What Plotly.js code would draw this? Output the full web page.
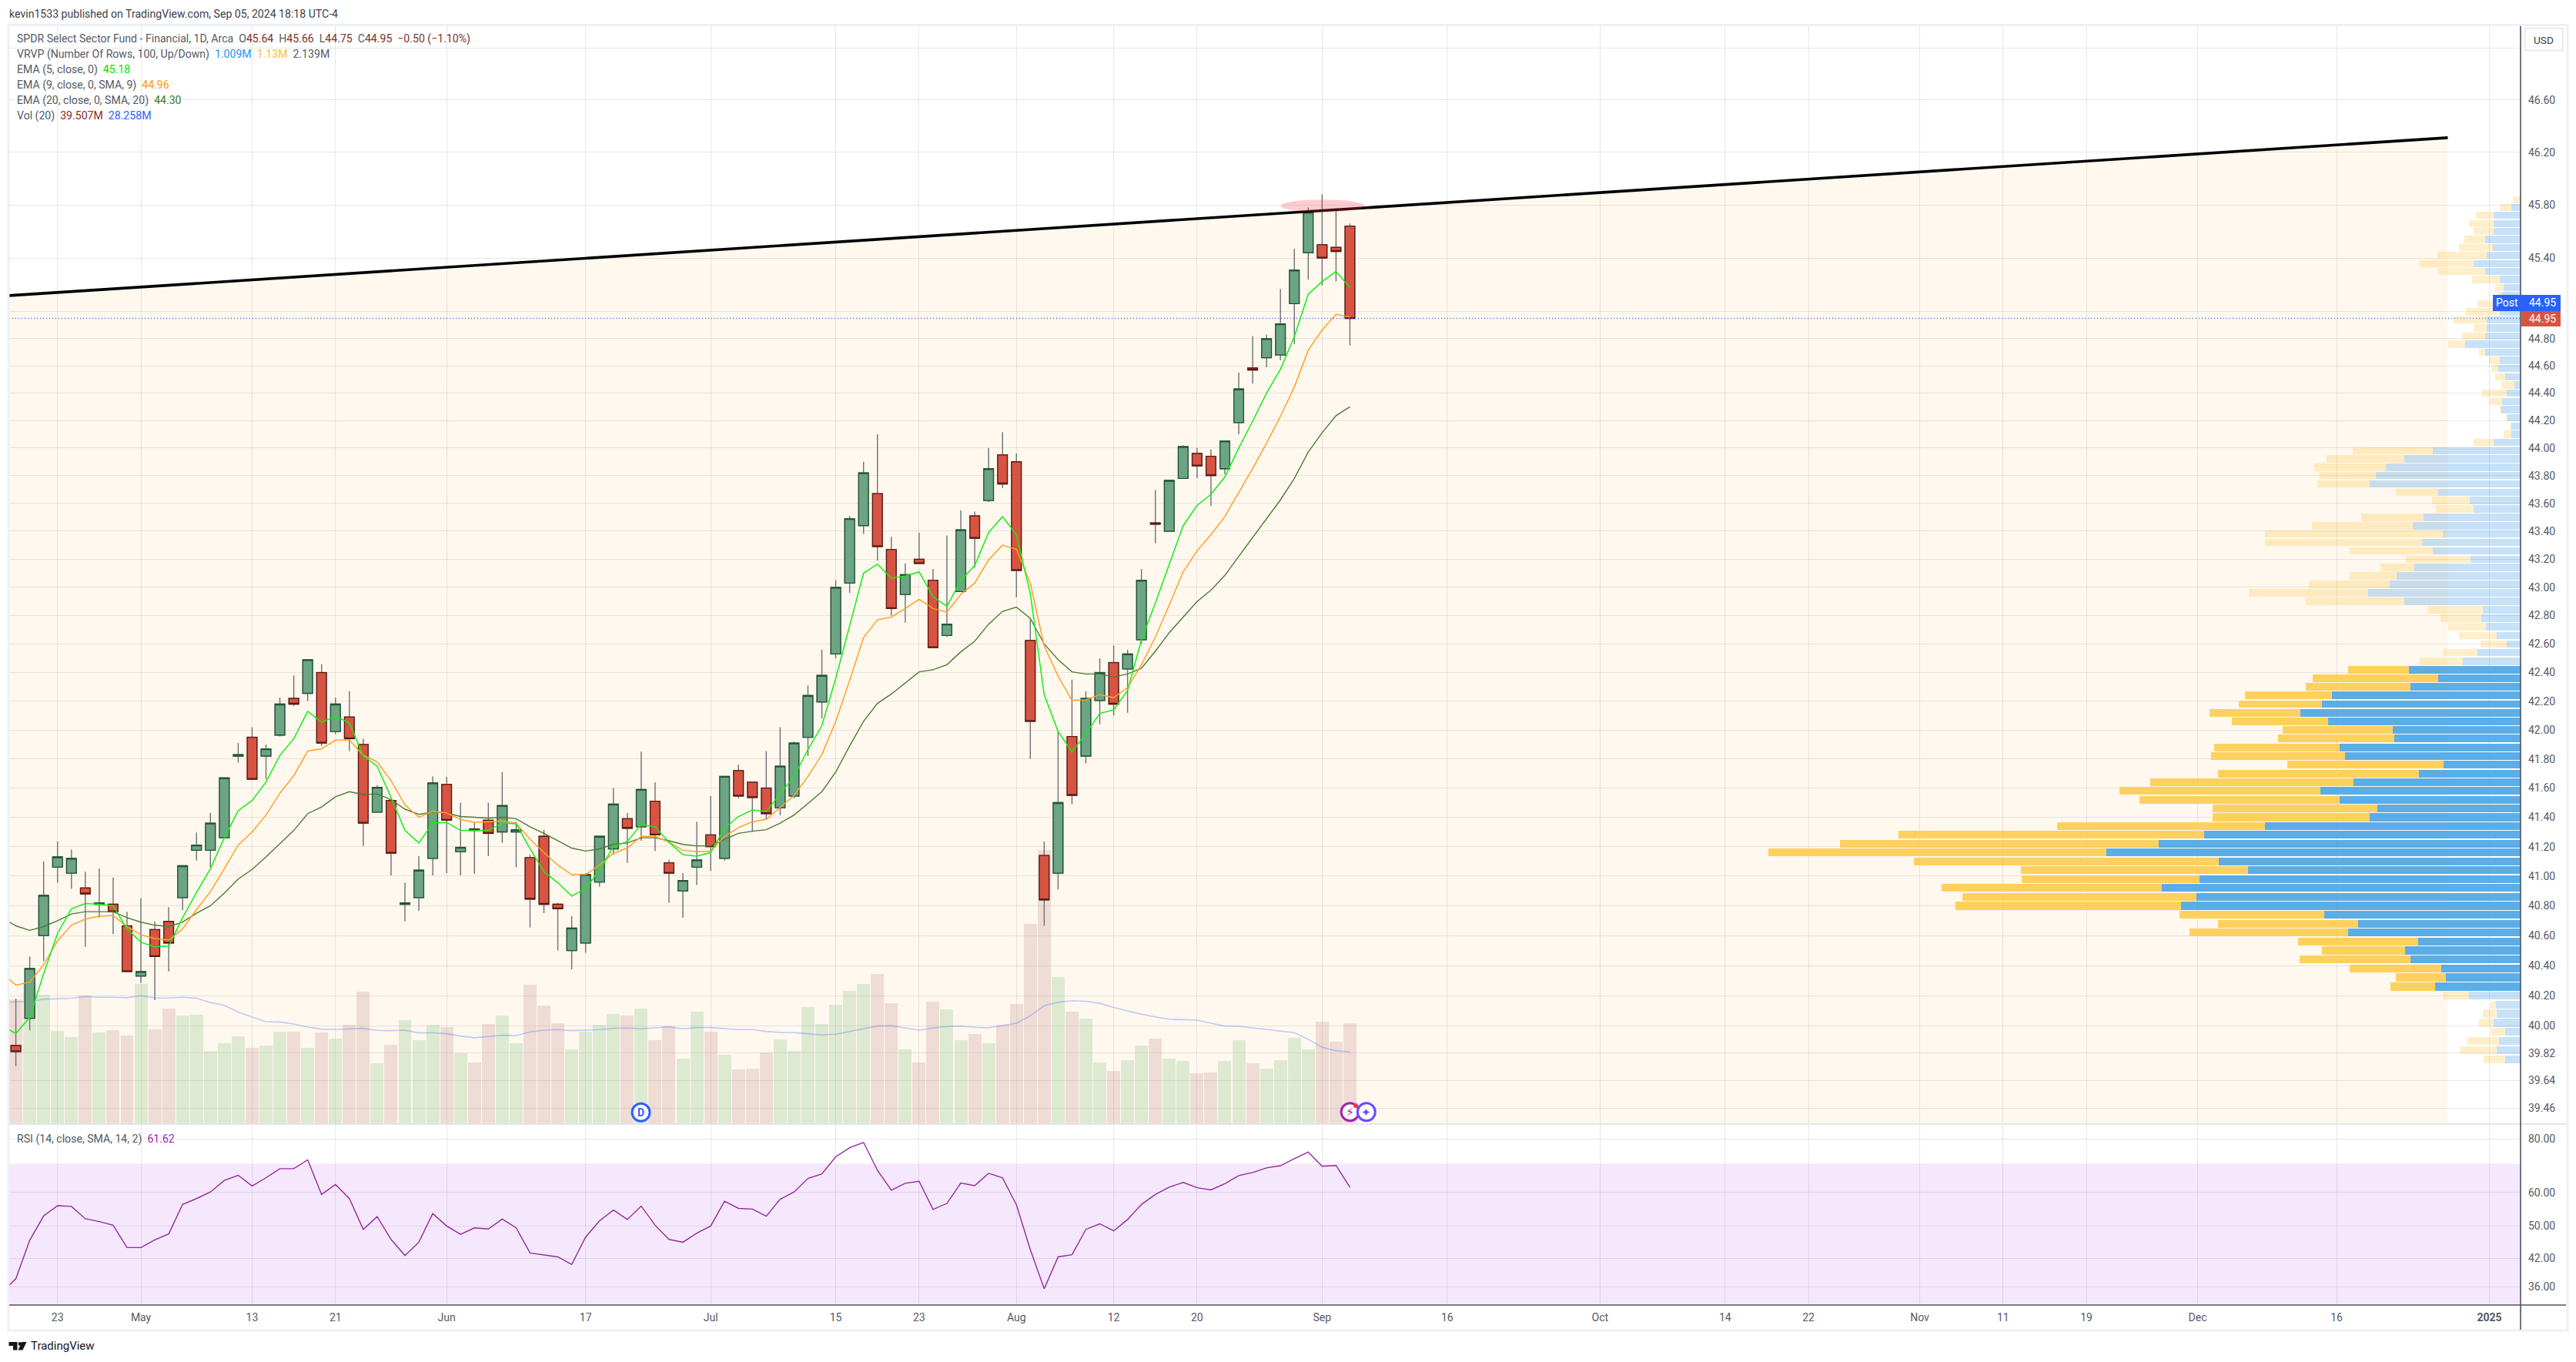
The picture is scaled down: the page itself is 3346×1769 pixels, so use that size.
<!DOCTYPE html>
<html><head><meta charset="utf-8">
<script src="https://cdn.plot.ly/plotly-3.0.1.min.js"></script>
<style>html,body{margin:0;padding:0;background:#fff}#c{width:3346px;height:1769px}</style>
</head><body><div id="c"></div>
<script>
const opens=[39.87,40.05,40.60,41.06,41.02,40.92,40.81,40.81,40.665,40.33,40.64,40.695,40.855,41.175,41.175,41.26,41.82,41.95,41.82,41.965,42.22,42.255,42.40,41.99,42.09,41.90,41.435,41.515,40.81,40.855,41.12,41.625,41.165,41.32,41.38,41.30,41.30,41.125,41.27,40.81,40.50,40.55,40.96,41.185,41.39,41.335,41.51,41.09,40.90,41.06,41.28,41.12,41.72,41.64,41.60,41.465,41.545,41.95,42.195,42.53,43.03,43.44,43.67,43.27,42.95,43.20,43.05,42.66,42.97,43.51,43.62,43.95,43.90,42.625,41.14,41.02,41.955,41.82,42.205,42.47,42.425,42.63,43.46,43.40,43.78,43.96,43.94,43.85,44.185,44.585,44.66,44.68,45.06,45.44,45.50,45.48,45.64];
const highs=[40.18,40.46,41.10,41.235,41.18,41.03,41.05,40.99,40.76,40.85,40.695,40.79,41.07,41.295,41.43,41.67,41.91,42.02,41.90,42.225,42.38,42.49,42.46,42.225,42.27,41.94,41.62,41.515,40.955,41.135,41.68,41.675,41.50,41.36,41.50,41.71,41.37,41.145,41.315,40.82,40.73,41.02,41.27,41.60,41.43,41.85,41.64,41.11,41.02,41.37,41.545,41.68,41.76,41.64,41.855,42.02,41.92,42.31,42.56,43.05,43.51,43.90,44.10,43.36,43.17,43.39,43.13,43.37,43.55,43.54,44.00,44.115,43.96,42.77,41.235,41.99,42.35,42.27,42.50,42.59,42.56,43.13,43.695,43.765,44.02,44.00,43.99,44.05,44.55,44.82,44.83,45.17,45.47,45.78,45.88,45.775,45.66];
const lows=[39.735,39.97,40.43,40.955,40.915,40.525,40.72,40.61,40.36,40.285,40.17,40.36,40.77,41.105,41.06,41.26,41.775,41.66,41.66,41.955,42.165,42.20,41.89,41.97,41.855,41.205,41.435,41.005,40.695,40.765,41.005,41.02,41.005,41.015,41.135,41.225,41.06,40.655,40.75,40.50,40.375,40.485,40.93,41.145,41.09,41.24,41.17,40.82,40.72,40.94,41.035,41.105,41.53,41.30,41.385,41.415,41.53,41.82,42.08,42.50,42.96,43.38,43.19,42.80,42.75,43.17,42.575,42.65,42.97,43.14,43.61,43.71,42.93,41.80,40.665,40.91,41.49,41.77,42.04,42.10,42.12,42.60,43.315,43.40,43.78,43.78,43.58,43.81,44.10,44.47,44.59,44.64,44.76,45.24,45.195,45.225,44.75];
const closes=[39.83,40.38,40.87,41.13,41.12,40.88,40.82,40.76,40.36,40.36,40.46,40.55,41.07,41.21,41.36,41.67,41.83,41.66,41.87,42.18,42.18,42.49,41.91,42.18,41.94,41.36,41.605,41.155,40.82,41.04,41.635,41.38,41.195,41.31,41.29,41.48,41.315,40.845,40.81,40.78,40.65,41.01,41.27,41.49,41.325,41.59,41.28,41.02,40.97,41.11,41.20,41.68,41.545,41.535,41.425,41.75,41.91,42.24,42.38,43.00,43.49,43.82,43.29,42.85,43.09,43.17,42.575,42.74,43.41,43.35,43.85,43.74,43.12,42.06,40.84,41.50,41.55,42.22,42.40,42.18,42.53,43.05,43.45,43.765,44.01,43.87,43.80,44.05,44.43,44.57,44.80,44.91,45.31,45.745,45.40,45.45,44.95];
const volumes=[48.9,55.5,50.7,36.5,34.1,50.4,35.9,36.8,34.7,54.9,37.1,45.2,42.5,42.8,28.6,31.7,34.4,29.9,30.8,36.2,36.2,29.9,35.9,33.5,38.9,51.9,23.8,31.1,40.7,32.9,38.9,38.0,27.7,24.1,39.2,42.5,31.7,54.6,46.4,39.5,29.3,36.2,38.9,43.1,42.5,45.2,32.9,38.3,25.6,44.0,36.2,27.1,21.4,21.7,28.0,33.2,28.6,45.8,39.2,46.7,52.2,54.9,58.8,47.3,29.3,24.1,47.9,44.9,32.9,35.3,31.7,38.9,47.0,78.4,107.5,57.6,44.0,41.3,24.1,20.8,24.9,30.8,33.5,25.6,24.7,19.9,20.2,24.7,32.9,23.8,21.7,25.0,33.8,29.3,40.1,32.3,39.507];
const ema5=[40.0,39.95,40.055,40.345,40.615,40.78,40.815,40.81,40.80,40.645,40.555,40.525,40.53,40.72,40.89,41.05,41.26,41.445,41.515,41.64,41.825,41.94,42.13,42.055,42.095,42.05,41.82,41.75,41.535,41.31,41.225,41.36,41.365,41.31,41.31,41.31,41.36,41.355,41.185,41.03,40.955,40.865,40.915,41.04,41.20,41.235,41.35,41.335,41.23,41.145,41.135,41.16,41.325,41.405,41.45,41.44,41.56,41.68,41.865,42.03,42.36,42.725,43.10,43.165,43.065,43.08,43.11,42.935,42.865,43.05,43.155,43.39,43.505,43.375,42.955,42.245,41.99,41.85,41.975,42.115,42.14,42.275,42.63,42.89,43.17,43.44,43.585,43.665,43.79,44.00,44.195,44.40,44.575,44.815,45.13,45.225,45.30,45.18];
const ema9=[40.35,40.27,40.29,40.405,40.565,40.67,40.71,40.73,40.735,40.66,40.605,40.58,40.57,40.645,40.775,40.895,41.05,41.21,41.30,41.415,41.565,41.685,41.855,41.87,41.93,41.93,41.825,41.78,41.65,41.485,41.40,41.44,41.43,41.385,41.365,41.37,41.375,41.36,41.25,41.16,41.075,41.01,41.01,41.075,41.155,41.19,41.27,41.27,41.23,41.175,41.165,41.17,41.27,41.33,41.37,41.385,41.47,41.55,41.68,41.83,42.06,42.345,42.645,42.77,42.79,42.85,42.915,42.85,42.825,42.95,43.03,43.195,43.30,43.27,43.03,42.585,42.375,42.205,42.21,42.245,42.225,42.295,42.455,42.65,42.875,43.11,43.26,43.375,43.505,43.68,43.85,44.035,44.23,44.445,44.715,44.865,44.98,44.96];
const ema20=[40.72,40.665,40.635,40.66,40.70,40.745,40.76,40.76,40.76,40.72,40.69,40.67,40.66,40.69,40.75,40.80,40.885,40.98,41.045,41.13,41.22,41.31,41.425,41.47,41.54,41.575,41.555,41.56,41.52,41.455,41.42,41.435,41.43,41.405,41.40,41.395,41.40,41.39,41.335,41.29,41.24,41.19,41.17,41.185,41.215,41.225,41.26,41.26,41.24,41.215,41.205,41.205,41.25,41.29,41.305,41.315,41.36,41.415,41.495,41.575,41.71,41.89,42.06,42.185,42.25,42.325,42.405,42.42,42.455,42.545,42.62,42.74,42.83,42.86,42.78,42.60,42.49,42.405,42.39,42.39,42.37,42.39,42.43,42.55,42.68,42.79,42.90,42.98,43.085,43.22,43.355,43.49,43.625,43.78,43.97,44.11,44.235,44.30];
const volMA=[47.7,47.8,48.0,48.9,49.0,49.3,50.0,49.7,49.7,49.5,50.3,49.4,49.4,49.7,49.3,47.6,46.5,43.9,41.9,40.1,40.0,39.2,38.0,37.2,37.1,37.3,37.5,36.7,36.6,36.8,35.7,35.8,35.4,34.5,33.8,34.3,34.8,34.7,36.1,36.8,37.0,36.6,36.8,37.0,37.5,37.6,37.3,37.7,38.1,37.3,37.8,37.8,37.3,37.0,37.0,36.3,35.9,35.8,35.4,34.9,35.2,36.3,37.2,38.4,38.5,37.7,36.8,37.6,38.2,38.4,37.9,37.7,38.5,39.5,42.4,46.4,47.7,48.3,48.1,47.3,45.7,44.3,43.0,42.0,41.1,40.9,40.7,39.5,38.4,38.3,37.7,37.1,36.5,35.8,33.2,30.1,28.7,28.258];
const rsi=[34.9,37.6,46.3,52.8,55.8,55.6,52.0,51.2,50.2,44.5,44.5,46.4,47.9,56.2,58.0,60.1,64.0,65.8,62.1,64.9,68.2,68.2,71.5,59.3,62.6,58.0,49.1,52.6,46.5,42.6,45.8,53.5,50.0,47.8,49.5,49.2,51.9,49.5,43.2,42.8,42.3,40.6,47.1,51.4,54.5,51.8,55.7,50.2,46.5,45.8,48.1,50.0,57.2,55.0,54.8,52.7,57.8,60.1,64.7,66.3,72.7,76.4,78.6,67.6,60.7,63.0,63.7,54.7,56.5,63.1,62.2,66.5,64.9,56.1,44.0,35.6,42.3,42.8,49.1,50.6,48.7,51.8,56.2,59.3,61.7,63.3,61.5,60.8,62.9,65.7,66.8,68.5,69.3,72.0,74.6,69.1,69.4,61.62];
const vpPrice=[39.78,39.84,39.90,39.96,40.02,40.08,40.14,40.20,40.26,40.32,40.38,40.44,40.50,40.56,40.62,40.68,40.74,40.80,40.86,40.92,40.98,41.04,41.10,41.16,41.22,41.28,41.34,41.40,41.46,41.52,41.58,41.64,41.70,41.76,41.82,41.88,41.94,42.00,42.06,42.12,42.18,42.24,42.30,42.36,42.42,42.48,42.54,42.60,42.66,42.72,42.78,42.84,42.90,42.96,43.02,43.08,43.14,43.20,43.26,43.32,43.38,43.44,43.50,43.56,43.62,43.68,43.74,43.80,43.86,43.92,43.98,44.04,44.10,44.16,44.22,44.28,44.34,44.40,44.46,44.52,44.58,44.64,44.70,44.76,44.82,44.88,44.94,45.00,45.06,45.12,45.18,45.24,45.30,45.36,45.42,45.48,45.54,45.60,45.66,45.72,45.78,45.84];
const vpUp=[30,45,41,29,52,45,47,99,163,142,152,211,220,195,329,310,375,648,619,685,613,520,576,791,691,605,489,289,274,345,383,319,194,147,335,345,241,244,367,420,379,360,211,158,214,110,82,27,45,66,75,72,222,291,250,237,203,95,167,188,149,206,186,89,97,158,289,277,258,222,167,52,17,18,25,37,36,27,12,30,43,39,67,106,68,65,65,40,52,37,33,39,68,89,65,53,67,52,52,52,18,1];
const vpDown=[40,71,60,29,27,27,11,49,86,96,175,211,159,230,303,268,276,431,448,421,340,434,583,646,609,583,397,299,315,383,384,388,384,298,257,241,223,210,184,174,160,167,199,239,115,82,67,49,73,73,78,104,188,228,155,89,64,124,160,301,340,192,118,73,72,81,100,107,136,148,154,37,16,3,3,3,25,46,25,19,13,22,13,32,44,25,65,65,31,6,16,53,90,103,94,65,40,37,47,34,22,13];
const priceTicks=[39.46,39.64,39.82,40.00,40.20,40.40,40.60,40.80,41.00,41.20,41.40,41.60,41.80,42.00,42.20,42.40,42.60,42.80,43.00,43.20,43.40,43.60,43.80,44.00,44.20,44.40,44.60,44.80,45.00,45.40,45.80,46.20,46.60,47.00];
const hiddenPriceTicks=[45.00,47.00];
const rsiTicks=[36,42,50,60,80];
const xTickVals=[3,9,17,23,31,41,50,59,65,72,79,85,94,103,114,123,129,137,143,149,157,167,178];
const xTickText=['23','May','13','21','Jun','17','Jul','15','23','Aug','12','20','Sep','16','Oct','14','22','Nov','11','19','Dec','16','<b>2025</b>'];
const trendX=[-0.476,175.0];
const trendY=[45.12,46.31];
const lastPrice=44.95;

const W=3346,H=1769;
const px=x=>x/W, py=y=>1-y/H;
const X0=12,X1=3274,Ytop=34,Ymid=1460,Ybot=1695;
const xRange=[-0.476,180.24];
const pRange=[Math.log10(39.357),Math.log10(47.17)];
const rRange=[Math.log10(32.6),Math.log10(86.8)];
const yMainDom=[py(Ymid),py(Ytop)], yRsiDom=[py(Ybot),py(Ymid)];
const priceFrac=p=>yMainDom[0]+(Math.log10(p)-pRange[0])/(pRange[1]-pRange[0])*(yMainDom[1]-yMainDom[0]);
const rsiFrac=v=>yRsiDom[0]+(Math.log10(v)-rRange[0])/(rRange[1]-rRange[0])*(yRsiDom[1]-yRsiDom[0]);

const idx=closes.map((_,i)=>i);
const lineX=[-1].concat(idx);
const FONT='Roboto, sans-serif', GREY='#555a66';
const grid='rgba(60,50,50,0.11)';
const UP='rgba(76,175,80,0.19)', DN='rgba(170,108,109,0.2)';

const vpOpaque=i=>i>=8&&i<=44;
const traces=[
 {type:'bar',x:idx,y:volumes,xaxis:'x',yaxis:'y',width:0.94,marker:{color:idx.map(i=>closes[i]>=opens[i]?UP:DN),line:{width:0}},hoverinfo:'skip'},
 {type:'bar',orientation:'h',y:vpPrice,x:vpUp,xaxis:'x2',yaxis:'y2',width:0.053,marker:{color:vpPrice.map((_,i)=>vpOpaque(i)?'rgba(62,160,228,0.85)':'rgba(30,136,229,0.25)'),line:{width:0}},hoverinfo:'skip'},
 {type:'bar',orientation:'h',y:vpPrice,x:vpDown,xaxis:'x2',yaxis:'y2',width:0.053,marker:{color:vpPrice.map((_,i)=>vpOpaque(i)?'rgba(254,201,68,0.85)':'rgba(251,192,45,0.25)'),line:{width:0}},hoverinfo:'skip'},
 {type:'candlestick',x:idx,open:opens,high:highs,low:lows,close:closes,xaxis:'x',yaxis:'y2',whiskerwidth:0,
  increasing:{line:{color:'#707074',width:1.4},fillcolor:'#6ba583'},decreasing:{line:{color:'#707074',width:1.4},fillcolor:'#d75442'},hoverinfo:'skip'},
 {type:'candlestick',x:idx,open:opens,close:closes,high:idx.map(i=>Math.max(opens[i],closes[i])),low:idx.map(i=>Math.min(opens[i],closes[i])),xaxis:'x',yaxis:'y2',whiskerwidth:0,
  increasing:{line:{color:'#225437',width:1.3},fillcolor:'#6ba583'},decreasing:{line:{color:'#5b1a13',width:1.3},fillcolor:'#d75442'},hoverinfo:'skip'},
 {type:'scatter',mode:'lines',x:lineX,y:volMA,xaxis:'x',yaxis:'y',line:{color:'rgba(41,98,255,0.3)',width:1.6},hoverinfo:'skip'},
 {type:'scatter',mode:'lines',x:lineX,y:ema20,xaxis:'x',yaxis:'y2',line:{color:'#4f7a35',width:1.4},hoverinfo:'skip'},
 {type:'scatter',mode:'lines',x:lineX,y:ema9,xaxis:'x',yaxis:'y2',line:{color:'#ffa126',width:1.5},hoverinfo:'skip'},
 {type:'scatter',mode:'lines',x:lineX,y:ema5,xaxis:'x',yaxis:'y2',line:{color:'#14f014',width:1.5},hoverinfo:'skip'},
 {type:'scatter',mode:'lines',x:[xRange[0],xRange[1]],y:[lastPrice,lastPrice],xaxis:'x',yaxis:'y2',line:{color:'#2962ff',width:1.5,dash:'1px 3px'},hoverinfo:'skip'},
 {type:'scatter',mode:'lines',x:trendX,y:trendY,xaxis:'x',yaxis:'y2',line:{color:'#000000',width:3.6},hoverinfo:'skip'},
 {type:'scatter',mode:'lines',x:lineX,y:rsi,xaxis:'x',yaxis:'y3',line:{color:'#96279f',width:1.4},hoverinfo:'skip'}
];

const rectPx=(x0,y0,x1,y1,fill,line,lw,extra)=>Object.assign({type:'rect',xref:'paper',yref:'paper',x0:px(x0),x1:px(x1),y0:py(y0),y1:py(y1),fillcolor:fill,line:{color:line||'rgba(0,0,0,0)',width:lw||0}},extra||{});
const linePx=(x0,y0,x1,y1,c,w)=>({type:'line',xref:'paper',yref:'paper',x0:px(x0),x1:px(x1),y0:py(y0),y1:py(y1),line:{color:c,width:w}});
const circlePx=(cx,cy,r,fill,c,w)=>({type:'circle',xref:'paper',yref:'paper',x0:px(cx-r),x1:px(cx+r),y0:py(cy-r),y1:py(cy+r),fillcolor:fill,line:{color:c,width:w}});
const pathPx=(pts,fill)=>({type:'path',xref:'paper',yref:'paper',path:'M'+pts.map(p=>px(p[0])+','+py(p[1])).join(' L')+' Z',fillcolor:fill,line:{width:0}});

const frame='#eef0f6';
const shapes=[
 {type:'path',layer:'below',xref:'x',yref:'paper',
  path:`M${trendX[0]},${priceFrac(trendY[0])} L${trendX[1]},${priceFrac(trendY[1])} L${trendX[1]},${yMainDom[0]} L${trendX[0]},${yMainDom[0]} Z`,
  fillcolor:'#fff8ef',line:{width:0}},
 {type:'rect',layer:'below',xref:'x',yref:'paper',x0:xRange[0],x1:xRange[1],y0:yRsiDom[0],y1:rsiFrac(70),fillcolor:'#f5e8fd',line:{width:0}},
 {type:'circle',xref:'x',yref:'paper',x0:91,x1:97.05,y0:priceFrac(45.745),y1:priceFrac(45.84),fillcolor:'rgba(242,54,69,0.25)',line:{width:0}},
 rectPx(11,32.5,3335,1728,'rgba(0,0,0,0)',frame,3),
 linePx(12,Ymid,3333,Ymid,'#e2e5ec',2),
 linePx(12,Ybot,3333,Ybot,'#50535e',1.6),
 linePx(X1,Ytop,X1,1727,'#50535e',1.6),
 rectPx(3279.5,37,3329,65.5,'#ffffff','#e8ebf2',2),
 rectPx(3238,383,3326,404,'#2962ff'),
 rectPx(3275,404,3326,424,'#d75442'),
 circlePx(832.5,1444.8,11.5,'#ffffff','#2962ff',3),
 circlePx(1753.6,1444.3,11.5,'#ffffff','#9c27b0',3),
 circlePx(1774.8,1444.3,11.5,'#ffffff','#6a4cff',3),
 circlePx(1761,1436,3,'#f23645','#f23645',0),
 pathPx([[11.5,1743],[22.5,1743],[22.5,1753.5],[17,1753.5],[17,1748],[11.5,1748]],'#131722'),
 circlePx(26,1745.5,2.4,'#131722','#131722',0),
 pathPx([[34.5,1743],[29.5,1753.5],[23.5,1753.5],[28.5,1743]],'#131722')
];

const ann=(x,y,text,o)=>Object.assign({xref:'paper',yref:'paper',x:px(x),y:py(y),text:text,showarrow:false,xanchor:'left',yanchor:'middle',borderpad:0,font:{family:FONT,size:14.1,color:GREY}},o||{});
const span=(c,t)=>`<span style="color:${c}">${t}</span>`;
const RV='#80312b';
const annotations=[
 ann(11,18,'kevin1533 published on TradingView.com, Sep 05, 2024 18:18 UTC-4',{font:{family:FONT,size:14.1,color:'#3b3f4a'}}),
 ann(21,50,'SPDR Select Sector Fund - Financial, 1D, Arca  O'+span(RV,'45.64')+'  H'+span(RV,'45.66')+'  L'+span(RV,'44.75')+'  C'+span(RV,'44.95')+'  '+span(RV,'−0.50 (−1.10%)')),
 ann(21,70.7,'VRVP (Number Of Rows, 100, Up/Down)  '+span('#2196f3','1.009M')+'  '+span('#fbc02d','1.13M')+'  '+span('#555a66','2.139M')),
 ann(21,90.7,'EMA (5, close, 0)  '+span('#00e600','45.18')),
 ann(21,110.7,'EMA (9, close, 0, SMA, 9)  '+span('#ff9800','44.96')),
 ann(21,130.3,'EMA (20, close, 0, SMA, 20)  '+span('#3d7a1e','44.30')),
 ann(21,150.7,'Vol (20)  '+span('#8e2b28','39.507M')+'  '+span('#2962ff','28.258M')),
 ann(21,1479,'RSI (14, close, SMA, 14, 2)  '+span('#9c27b0','61.62')),
 ann(3304,51.5,'USD',{xanchor:'center',font:{family:FONT,size:13.6,color:'#3b3f4a'}}),
 ann(3256,393.5,'Post',{xanchor:'center',font:{family:FONT,size:14,color:'#ffffff'}}),
 ann(3302,393.5,'44.95',{xanchor:'center',font:{family:FONT,size:14,color:'#ffffff'}}),
 ann(3302,414,'44.95',{xanchor:'center',font:{family:FONT,size:14,color:'#ffffff'}}),
 ann(832.5,1445,'<b>D</b>',{xanchor:'center',font:{family:FONT,size:14,color:'#2962ff'}}),
 ann(1753.6,1444.5,'⚡',{xanchor:'center',font:{family:'DejaVu Sans',size:16,color:'#9c27b0'}}),
 ann(1774.8,1444.5,'✦',{xanchor:'center',font:{family:'DejaVu Sans',size:15,color:'#6a4cff'}}),
 ann(39,1748,'TradingView',{font:{family:FONT,size:15,color:'#131722'}})
];

const layout={
 width:W,height:H,margin:{l:0,r:0,t:0,b:0,pad:0},paper_bgcolor:'#ffffff',plot_bgcolor:'#ffffff',
 barmode:'stack',bargap:0,showlegend:false,boxmode:'overlay',boxgap:0.3,boxgroupgap:0,hovermode:false,
 xaxis:{domain:[px(X0),px(X1)],range:xRange,anchor:'y3',type:'linear',showgrid:true,gridcolor:grid,gridwidth:1,zeroline:false,
  tickmode:'array',tickvals:xTickVals,ticktext:xTickText,ticks:'',ticklabelstandoff:6,showline:false,
  rangeslider:{visible:false},tickfont:{family:FONT,size:14,color:GREY}},
 xaxis2:{overlaying:'x',domain:[px(X0),px(X1)],range:[4798,0],anchor:'y2',visible:false,type:'linear'},
 yaxis:{domain:yMainDom,range:[0,430],anchor:'x',visible:false,type:'linear',showgrid:false,zeroline:false},
 yaxis2:{domain:yMainDom,overlaying:'y',anchor:'x',side:'right',type:'log',range:pRange,showgrid:true,gridcolor:grid,gridwidth:1,zeroline:false,
  tickmode:'array',tickvals:priceTicks,ticktext:priceTicks.map(p=>hiddenPriceTicks.includes(p)?'':p.toFixed(2)),ticks:'',ticklabelstandoff:9,
  tickfont:{family:FONT,size:14,color:GREY},showline:false},
 yaxis3:{domain:yRsiDom,anchor:'x',side:'right',type:'log',range:rRange,showgrid:true,gridcolor:grid,gridwidth:1,zeroline:false,
  tickmode:'array',tickvals:rsiTicks,ticktext:rsiTicks.map(v=>v.toFixed(2)),ticks:'',ticklabelstandoff:9,
  tickfont:{family:FONT,size:14,color:GREY},showline:false},
 shapes:shapes,annotations:annotations
};
Plotly.newPlot('c',traces,layout,{staticPlot:true,displayModeBar:false});
</script></body></html>
